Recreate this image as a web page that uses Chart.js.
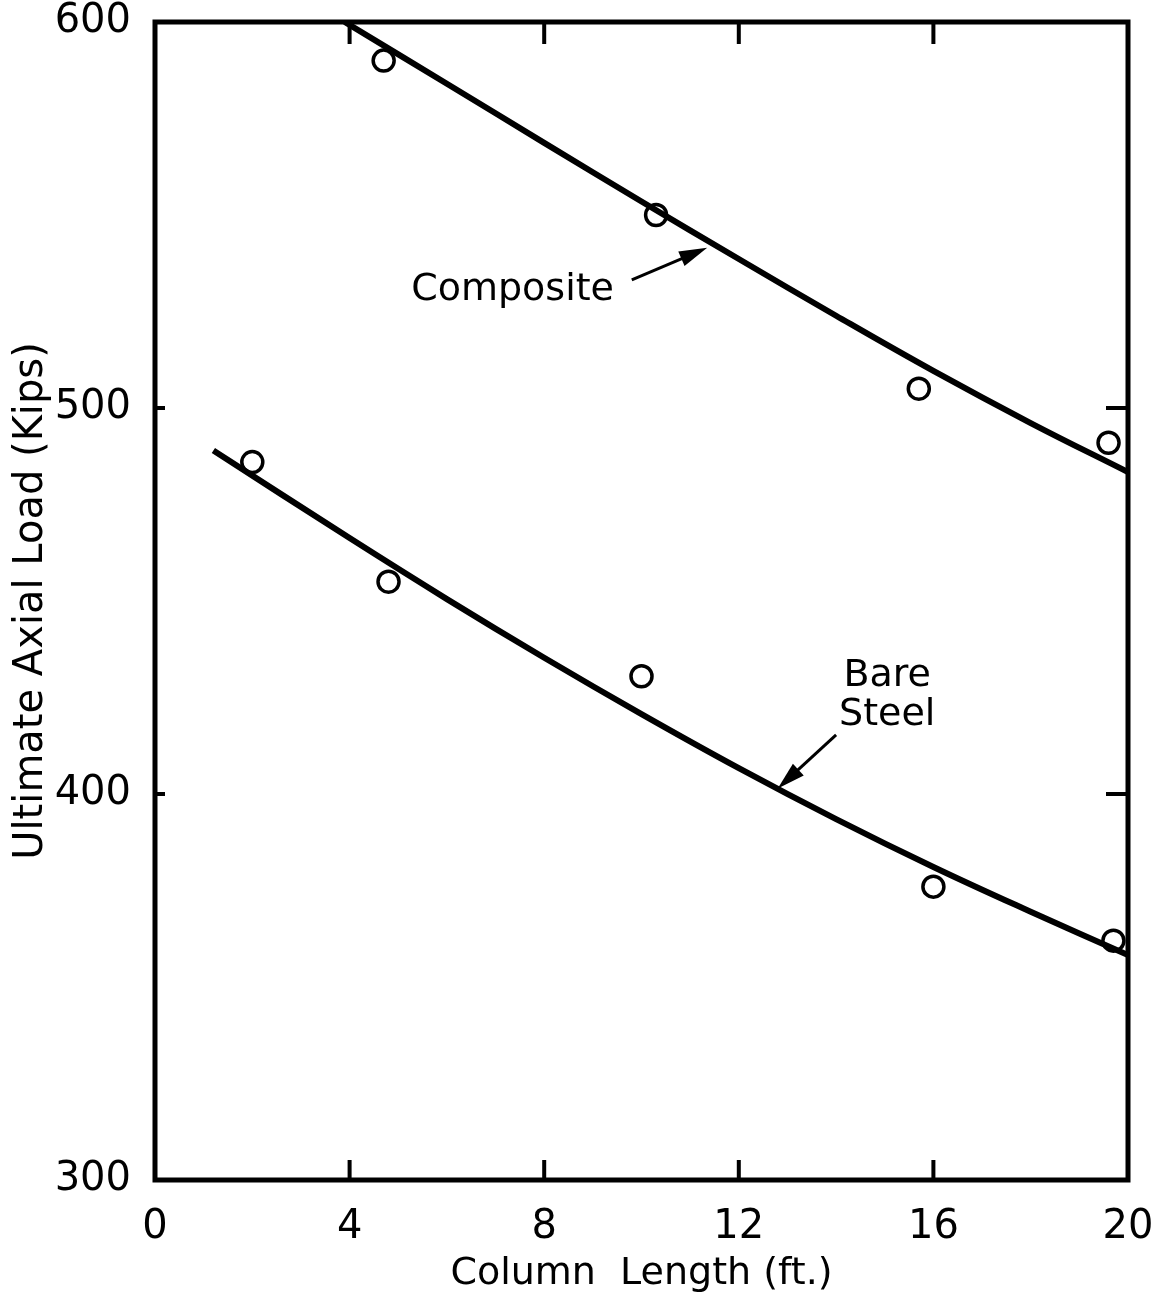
<!DOCTYPE html>
<html>
<head>
<meta charset="utf-8">
<script src="https://cdn.jsdelivr.net/npm/chart.js@4.4.1/dist/chart.umd.min.js"></script>
<style>
  html, body { margin: 0; padding: 0; background: #fff; }
  #wrap { width: 1172px; height: 1302px; }
</style>
</head>
<body>
<div id="wrap"><canvas id="chart"></canvas></div>
<script>
const lengthTicks = [0, 4, 8, 12, 16, 20];
const loadTicks = [300, 400, 500, 600];

// test results (open circles)
const compositeTestLength = [4.7, 10.3, 15.7, 19.6];
const compositeTestLoad = [590, 550, 505, 491];
const bareTestLength = [2.0, 4.8, 10.0, 16.0, 19.7];
const bareTestLoad = [486, 455, 430.5, 376, 362];

// fitted curves
const compositeCurveLength = [3.9, 6, 8, 10, 12, 14, 16, 18, 20];
const compositeCurveLoad = [600, 584, 568.7, 553.5, 538.6, 523.9, 509.6, 496.1, 483.4];
const bareCurveLength = [1.2, 4, 6, 8, 10, 12, 14, 16, 18, 20];
const bareCurveLoad = [489, 466.3, 450.5, 435.3, 420.7, 406.7, 393.5, 381.1, 369.5, 358.3];

const FONT = '"DejaVu Sans", sans-serif';

function toPoints(xs, ys) {
  return xs.map((v, i) => ({ x: v, y: ys[i] }));
}

// label positions and arrows, in data units
const notes = [
  { lines: ['Composite'], x: 7.35, y: 530.6, from: [9.8, 533.2], to: [11.35, 541.5] },
  { lines: ['Bare', 'Steel'], x: 15.05, y: 425.5, from: [14.0, 415.3], to: [12.8, 401.4] },
];

function drawArrow(ctx, x1, y1, x2, y2) {
  const ang = Math.atan2(y2 - y1, x2 - x1);
  const headLen = 28, headW = 8;
  ctx.beginPath();
  ctx.lineWidth = 3;
  ctx.moveTo(x1, y1);
  ctx.lineTo(x2 - Math.cos(ang) * headLen * 0.8, y2 - Math.sin(ang) * headLen * 0.8);
  ctx.stroke();
  ctx.beginPath();
  ctx.moveTo(x2, y2);
  ctx.lineTo(x2 - Math.cos(ang) * headLen - Math.sin(ang) * headW,
             y2 - Math.sin(ang) * headLen + Math.cos(ang) * headW);
  ctx.lineTo(x2 - Math.cos(ang) * headLen + Math.sin(ang) * headW,
             y2 - Math.sin(ang) * headLen - Math.cos(ang) * headW);
  ctx.closePath();
  ctx.fill();
}

const framePlugin = {
  id: 'framePlugin',
  afterDatasetsDraw(chart) {
    const { ctx, chartArea: a, scales: { x, y } } = chart;
    ctx.save();
    ctx.strokeStyle = '#000';
    ctx.fillStyle = '#000';
    ctx.lineWidth = 5;
    ctx.strokeRect(a.left, a.top, a.right - a.left, a.bottom - a.top);

    // inward ticks on all four sides
    ctx.lineWidth = 4;
    ctx.beginPath();
    lengthTicks.slice(1, -1).forEach(v => {
      const px = x.getPixelForValue(v);
      ctx.moveTo(px, a.bottom); ctx.lineTo(px, a.bottom - 20);
      ctx.moveTo(px, a.top); ctx.lineTo(px, a.top + 22);
    });
    loadTicks.slice(1, -1).forEach(v => {
      const py = y.getPixelForValue(v);
      ctx.moveTo(a.left, py); ctx.lineTo(a.left + 10, py);
      ctx.moveTo(a.right, py); ctx.lineTo(a.right - 22, py);
    });
    ctx.stroke();

    // curve labels
    ctx.font = '38px ' + FONT;
    ctx.textAlign = 'center';
    ctx.textBaseline = 'middle';
    notes.forEach(n => {
      const cx = x.getPixelForValue(n.x);
      const cy = y.getPixelForValue(n.y);
      const step = 39;
      n.lines.forEach((t, i) => {
        ctx.fillText(t, cx, cy + (i - (n.lines.length - 1) / 2) * step);
      });
      drawArrow(ctx,
        x.getPixelForValue(n.from[0]), y.getPixelForValue(n.from[1]),
        x.getPixelForValue(n.to[0]), y.getPixelForValue(n.to[1]));
    });
    ctx.restore();
  }
};

const curveStyle = {
  showLine: true,
  borderColor: '#000',
  borderWidth: 6,
  pointRadius: 0,
  tension: 0.4,
};
const pointStyle = {
  showLine: false,
  pointRadius: 10.5,
  pointBorderWidth: 3.5,
  pointBorderColor: '#000',
  pointBackgroundColor: 'rgba(0,0,0,0)',
};

new Chart(document.getElementById('chart'), {
  type: 'scatter',
  data: {
    datasets: [
      { label: 'Composite', data: toPoints(compositeCurveLength, compositeCurveLoad), ...curveStyle },
      { label: 'Bare Steel', data: toPoints(bareCurveLength, bareCurveLoad), ...curveStyle },
      { label: 'Composite tests', data: toPoints(compositeTestLength, compositeTestLoad), ...pointStyle },
      { label: 'Bare Steel tests', data: toPoints(bareTestLength, bareTestLoad), ...pointStyle },
    ]
  },
  options: {
    responsive: true,
    maintainAspectRatio: false,
    animation: false,
    layout: { padding: { top: 22, right: 44, left: 0, bottom: 0 } },
    plugins: {
      legend: { display: false },
      tooltip: { enabled: false },
    },
    scales: {
      x: {
        type: 'linear',
        min: 0,
        max: 20,
        afterBuildTicks: s => { s.ticks = lengthTicks.map(v => ({ value: v })); },
        afterFit: s => { s.height = 122; s.paddingLeft = 0; s.paddingRight = 0; },
        grid: { display: false },
        border: { display: false },
        ticks: { color: '#000', font: { family: FONT, size: 40 }, padding: 16, maxRotation: 0 },
        title: {
          display: true,
          text: 'Column  Length (ft.)',
          color: '#000',
          font: { family: FONT, size: 38 },
          padding: { top: 0, bottom: 5 },
        },
      },
      y: {
        type: 'linear',
        min: 300,
        max: 600,
        afterBuildTicks: s => { s.ticks = loadTicks.map(v => ({ value: v })); },
        afterFit: s => { s.width = 155; s.paddingTop = 0; s.paddingBottom = 0; },
        grid: { display: false },
        border: { display: false },
        ticks: { color: '#000', font: { family: FONT, size: 40 }, padding: 16 },
        title: {
          display: true,
          text: 'Ultimate Axial Load (Kips)',
          color: '#000',
          font: { family: FONT, size: 40 },
          padding: { top: 8, bottom: 0 },
        },
      },
    },
  },
  plugins: [framePlugin],
});
</script>
</body>
</html>
